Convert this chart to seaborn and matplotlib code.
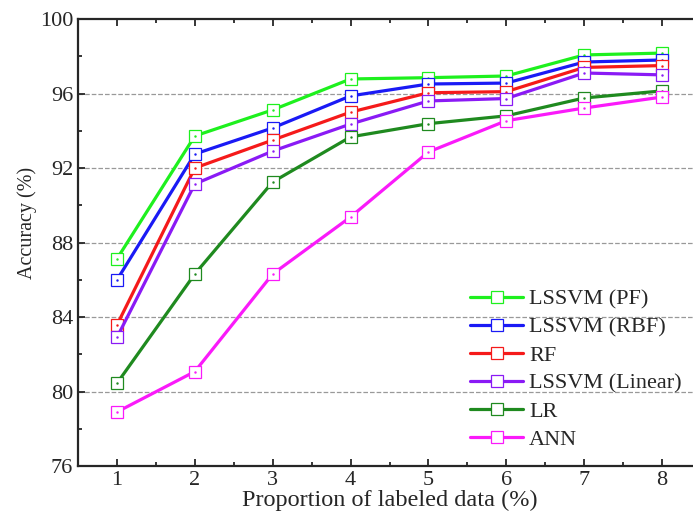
import matplotlib
matplotlib.use('Agg')
import matplotlib.pyplot as plt
import seaborn as sns
import pandas as pd
from matplotlib.ticker import MultipleLocator

# data
proportion = [1, 2, 3, 4, 5, 6, 7, 8]
lssvm_pf = [87.12, 93.72, 95.12, 96.78, 96.85, 96.94, 98.07, 98.17]
lssvm_rbf = [85.99, 92.75, 94.15, 95.87, 96.51, 96.56, 97.69, 97.80]
rf = [83.57, 92.00, 93.50, 95.00, 96.04, 96.10, 97.40, 97.50]
lssvm_linear = [82.90, 91.14, 92.91, 94.36, 95.60, 95.73, 97.10, 97.00]
lr = [80.44, 86.31, 91.25, 93.67, 94.38, 94.80, 95.76, 96.14]
ann = [78.90, 81.07, 86.31, 89.37, 92.86, 94.54, 95.22, 95.81]

models = ['LSSVM (PF)', 'LSSVM (RBF)', 'RF', 'LSSVM (Linear)', 'LR', 'ANN']
colors = ['#1EF01E', '#1A1AF5', '#F51A1A', '#8A1AF5', '#1F8A1F', '#FA1AFA']
series = [lssvm_pf, lssvm_rbf, rf, lssvm_linear, lr, ann]

sns.set_style('ticks')
plt.rcParams['font.family'] = ['Liberation Serif', 'DejaVu Serif']
plt.rcParams['font.size'] = 16

fig = plt.figure(figsize=(6.93, 5.13), dpi=100)
# axes runs a bit past the right edge, like the cropped original
ax = fig.add_axes([78 / 693, 47 / 513, 623 / 693, 447 / 513])

for name, col, vals in zip(models, colors, series):
    df = pd.DataFrame({'x': proportion, 'y': vals})
    sns.lineplot(data=df, x='x', y='y', ax=ax, color=col, linewidth=2.3,
                 marker='s', markersize=9, markerfacecolor='white',
                 markeredgecolor=col, markeredgewidth=0.9, label=name)
    # tiny centre dot inside each marker
    ax.plot(proportion, vals, linestyle='none', marker='.', markersize=1.5,
            color=col)

ax.set_xlim(0.5, 8.5)
ax.set_ylim(76, 100)
ax.xaxis.set_major_locator(MultipleLocator(1))
ax.xaxis.set_minor_locator(MultipleLocator(0.5))
ax.yaxis.set_major_locator(MultipleLocator(4))
ax.yaxis.set_minor_locator(MultipleLocator(2))
ax.tick_params(which='both', direction='in', top=True, right=True, width=1.3)
ax.tick_params(which='major', length=5, labelsize=16)
ax.tick_params(which='minor', length=3)
for sp in ax.spines.values():
    sp.set_linewidth(1.6)

for yv in [80, 84, 88, 92, 96]:
    ax.axhline(yv, color='#999999', linestyle='--', linewidth=0.9, zorder=0)

ax.set_xlabel('Proportion of labeled data (%)', fontsize=17.5, labelpad=0)
ax.set_ylabel('Accuracy (%)', fontsize=14.5)
ax.yaxis.set_label_coords(-0.066, 0.544)

ax.legend(loc='upper left', bbox_to_anchor=(470 / 693, 1 - 289 / 513),
          bbox_transform=fig.transFigure, frameon=False, fontsize=16,
          handlelength=2.4, handletextpad=0.25, labelspacing=0.34,
          borderpad=0, borderaxespad=0)

fig.savefig('out.png', dpi=100)
